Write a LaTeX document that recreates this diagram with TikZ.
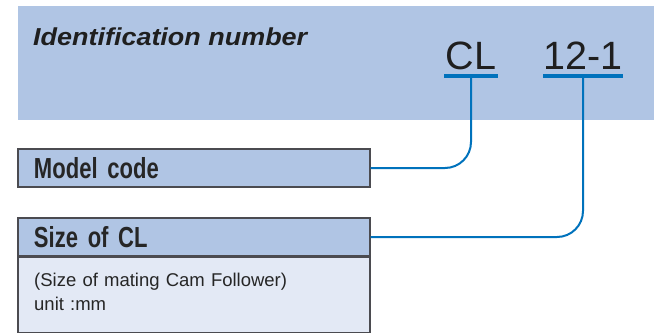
\documentclass[tikz,border=0pt]{standalone}
\usepackage{fontspec}
\usepackage{xcolor}
\setmainfont{Liberation Sans}
\newfontfamily\condfont[FakeStretch=0.76, WordSpace=0.6]{Liberation Sans Bold}
\newfontfamily\wideitfont[FakeStretch=1.1]{Liberation Sans Bold Italic}
\usetikzlibrary{positioning}

\definecolor{bannerblue}{RGB}{176,197,228}
\definecolor{paleblue}{RGB}{227,233,245}
\definecolor{linkblue}{RGB}{0,114,188}
\definecolor{edgegray}{RGB}{75,75,80}

\begin{document}
\begin{tikzpicture}[x=1pt,y=-1pt]
    \tikzstyle{banner}=[fill=bannerblue, minimum width=636pt, minimum height=114pt, inner sep=0pt]
    \tikzstyle{field}=[draw=edgegray, line width=1.1pt, fill=bannerblue, minimum width=352pt, minimum height=38pt, text width=320pt, inner xsep=16pt, inner ysep=0pt, align=left, font=\condfont\fontsize{29}{30}\selectfont, text=black!85]
    \tikzstyle{code}=[inner sep=0pt, font=\fontsize{39.5}{40}\selectfont, text=black!88]
    \tikzstyle{bar}=[draw=linkblue, line width=3.2pt]
    \tikzstyle{link}=[draw=linkblue, line width=2pt, rounded corners=26pt]
    \useasboundingbox (0,0) rectangle (654,333);

	\node [banner] (banner) at (336, 63) {};
	\node [anchor=base west, inner sep=0pt, font=\wideitfont\fontsize{24.5}{28}\selectfont, text=black!88] (idtitle) at (33, 45) {Identification number};

	\node [code, anchor=base] (cl) at (471, 69) {CL};
	\node [code, anchor=base] (num) at (583, 69) {12-1};
	\coordinate (clbar) at (471, 76);
	\coordinate (numbar) at (583, 76);
	\draw [bar] ([xshift=-27pt]clbar) -- ([xshift=27pt]clbar);
	\draw [bar] ([xshift=-40pt]numbar) -- ([xshift=40pt]numbar);

	\node [field] (model) at (194, 168) {Model code};
	\node [field] (sizehead) at (194, 237) {Size of CL};
	\node [field, fill=paleblue, anchor=north, minimum height=75pt] (sizebody) at (sizehead.south) {};
	\node [anchor=north west, inner sep=0pt, text width=320pt, align=left, font=\fontsize{18.5}{24}\selectfont, text=black!85] (sizenote) at (34, 273) {(Size of mating Cam Follower)\\unit :mm};

	\draw [link] (clbar) |- (model.east);
	\draw [link] (numbar) |- (sizehead.east);
\end{tikzpicture}
\end{document}
